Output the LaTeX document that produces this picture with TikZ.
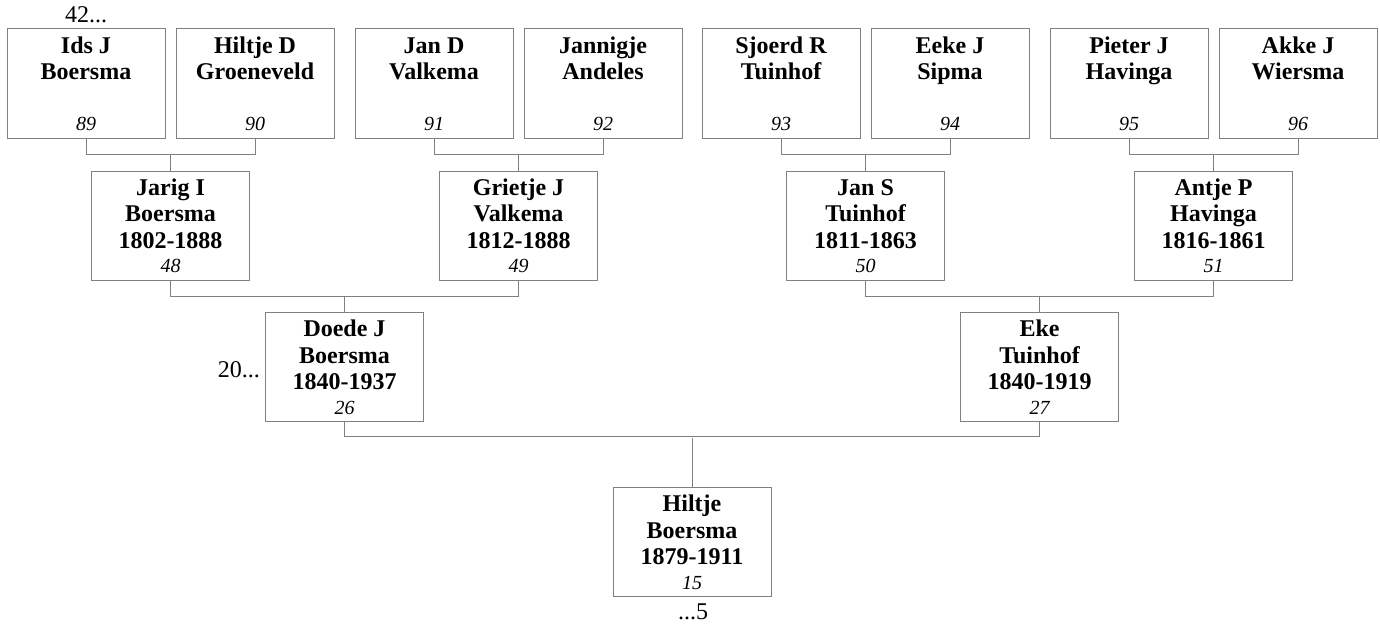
\documentclass[tikz,border=0pt]{standalone}
\usepackage{fontspec}
\setmainfont{Liberation Serif}
\definecolor{boxgray}{RGB}{128,128,128}
\definecolor{linegray}{RGB}{128,128,128}
\tikzset{
  box/.style={draw=boxgray, line width=1pt, minimum width=158pt, minimum height=109pt, inner sep=0pt, outer sep=0pt},
  nametext/.style={inner sep=0pt, font=\fontsize{24}{26.5}\selectfont\bfseries},
  numtext/.style={inner sep=0pt, font=\fontsize{20}{24}\selectfont\itshape},
  plain/.style={inner sep=0pt, font=\fontsize{24}{26}\selectfont},
  conn/.style={draw=linegray, line width=1pt}
}
\newcommand\person[5]{%
  \node[box] (#1) at (#2,#3) {};
  \node[nametext, anchor=base] (#1-n) at ([yshift=-24pt]#1.north) {\begin{tabular}[t]{@{}c@{}}#4\end{tabular}};
  \node[numtext, anchor=base] (#1-i) at ([yshift=7.5pt]#1.south) {#5};
}
\begin{document}
\begin{tikzpicture}[x=1pt,y=-1pt]
\useasboundingbox[fill=white] (0,0) rectangle (1380,626);
% generation 1
\person{p89}{86}{83.5}{Ids J\\Boersma}{89}
\person{p90}{255}{83.5}{Hiltje D\\Groeneveld}{90}
\person{p91}{434}{83.5}{Jan D\\Valkema}{91}
\person{p92}{603}{83.5}{Jannigje\\Andeles}{92}
\person{p93}{781}{83.5}{Sjoerd R\\Tuinhof}{93}
\person{p94}{950}{83.5}{Eeke J\\Sipma}{94}
\person{p95}{1129}{83.5}{Pieter J\\Havinga}{95}
\person{p96}{1298}{83.5}{Akke J\\Wiersma}{96}
% generation 2
\person{p48}{170.5}{225.5}{Jarig I\\Boersma\\1802-1888}{48}
\person{p49}{518.5}{225.5}{Grietje J\\Valkema\\1812-1888}{49}
\person{p50}{865.5}{225.5}{Jan S\\Tuinhof\\1811-1863}{50}
\person{p51}{1213.5}{225.5}{Antje P\\Havinga\\1816-1861}{51}
% generation 3
\person{p26}{344.5}{367}{Doede J\\Boersma\\1840-1937}{26}
\person{p27}{1039.5}{367}{Eke\\Tuinhof\\1840-1919}{27}
% generation 4
\person{p15}{692}{542}{Hiltje\\Boersma\\1879-1911}{15}
% extra labels
\node[plain, anchor=base] (g42) at (86,22.5) {42...};
\node[plain, anchor=base east] (g20) at (260,377) {20...};
\node[plain, anchor=base] (g5) at (693,619) {...5};
% connectors
\draw[conn] (p89.south) -- ++(0,16) -| (p90.south);
\draw[conn] (p48.north) -- ++(0,-17);
\draw[conn] (p91.south) -- ++(0,16) -| (p92.south);
\draw[conn] (p49.north) -- ++(0,-17);
\draw[conn] (p93.south) -- ++(0,16) -| (p94.south);
\draw[conn] (p50.north) -- ++(0,-17);
\draw[conn] (p95.south) -- ++(0,16) -| (p96.south);
\draw[conn] (p51.north) -- ++(0,-17);
\draw[conn] (p48.south) -- ++(0,16) -| (p49.south);
\draw[conn] (p26.north) -- ++(0,-16);
\draw[conn] (p50.south) -- ++(0,16) -| (p51.south);
\draw[conn] (p27.north) -- ++(0,-16);
\draw[conn] (p26.south) -- ++(0,15) -| (p27.south);
\draw[conn] (p15.north) -- ++(0,-50);
\end{tikzpicture}
\end{document}
